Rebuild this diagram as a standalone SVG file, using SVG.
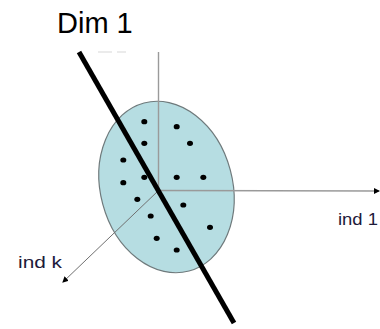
<svg xmlns="http://www.w3.org/2000/svg" width="380" height="329" viewBox="0 0 380 329">
<style>
.lbl{font-family:"Liberation Sans",Arial,sans-serif;fill:#1e1a3a}
.dot{fill:#000}
.ax{stroke:#9a9a9a;stroke-width:1.4;fill:none}
</style>
<defs>
<marker id="ah" markerWidth="6" markerHeight="6" refX="5" refY="3" orient="auto" markerUnits="userSpaceOnUse">
<path d="M0,0 L6,3 L0,6 z" fill="#000"/>
</marker>
</defs>
<rect width="380" height="329" fill="#fff"/>
<g id="faint">
<line x1="98" y1="52" x2="112" y2="52" stroke="#e4e4e4" stroke-width="1.5"/>
<line x1="117" y1="52" x2="126" y2="52" stroke="#e4e4e4" stroke-width="1.5"/>
</g>
<g id="cloud">
<ellipse cx="166.5" cy="187" rx="66" ry="87" transform="rotate(-15 166.5 187)" fill="#b6dde2" stroke="#6f7a7c" stroke-width="1.2"/>
</g>
<g id="connectors">
<line class="ax" x1="158.5" y1="52" x2="158.5" y2="190"/>
<line class="ax" x1="158.5" y1="190.5" x2="379" y2="191" marker-end="url(#ah)"/>
<line x1="158.5" y1="190.5" x2="63" y2="282" stroke="#707070" stroke-width="1" marker-end="url(#ah)"/>
</g>
<g id="points">
<ellipse class="dot" cx="144.3" cy="121.7" rx="3" ry="2.6"/>
<ellipse class="dot" cx="176.7" cy="126.7" rx="3" ry="2.6"/>
<ellipse class="dot" cx="144.3" cy="143.3" rx="3" ry="2.6"/>
<ellipse class="dot" cx="190" cy="143.3" rx="3" ry="2.6"/>
<ellipse class="dot" cx="123.3" cy="160" rx="3" ry="2.6"/>
<ellipse class="dot" cx="123.3" cy="182.7" rx="3" ry="2.6"/>
<ellipse class="dot" cx="144.3" cy="177.3" rx="3" ry="2.6"/>
<ellipse class="dot" cx="176.7" cy="177.3" rx="3" ry="2.6"/>
<ellipse class="dot" cx="203.3" cy="177.3" rx="3" ry="2.6"/>
<ellipse class="dot" cx="137.3" cy="199.3" rx="3" ry="2.6"/>
<ellipse class="dot" cx="183.3" cy="205" rx="3" ry="2.6"/>
<ellipse class="dot" cx="150.7" cy="216" rx="3" ry="2.6"/>
<ellipse class="dot" cx="210" cy="227.3" rx="3" ry="2.6"/>
<ellipse class="dot" cx="156.7" cy="238.3" rx="3" ry="2.6"/>
<ellipse class="dot" cx="176.7" cy="250" rx="3" ry="2.6"/>
</g>
<g id="dim1">
<line x1="79" y1="52" x2="234" y2="323" stroke="#000" stroke-width="5"/>
<text x="57" y="33" font-family="Liberation Sans, Arial, sans-serif" font-size="29" fill="#000">Dim 1</text>
</g>
<g id="ind1">
<text class="lbl" x="338" y="225" font-size="16" textLength="40" lengthAdjust="spacingAndGlyphs">ind 1</text>
</g>
<g id="indk">
<text class="lbl" x="18" y="268" font-size="16" textLength="44" lengthAdjust="spacingAndGlyphs">ind k</text>
</g>
</svg>
